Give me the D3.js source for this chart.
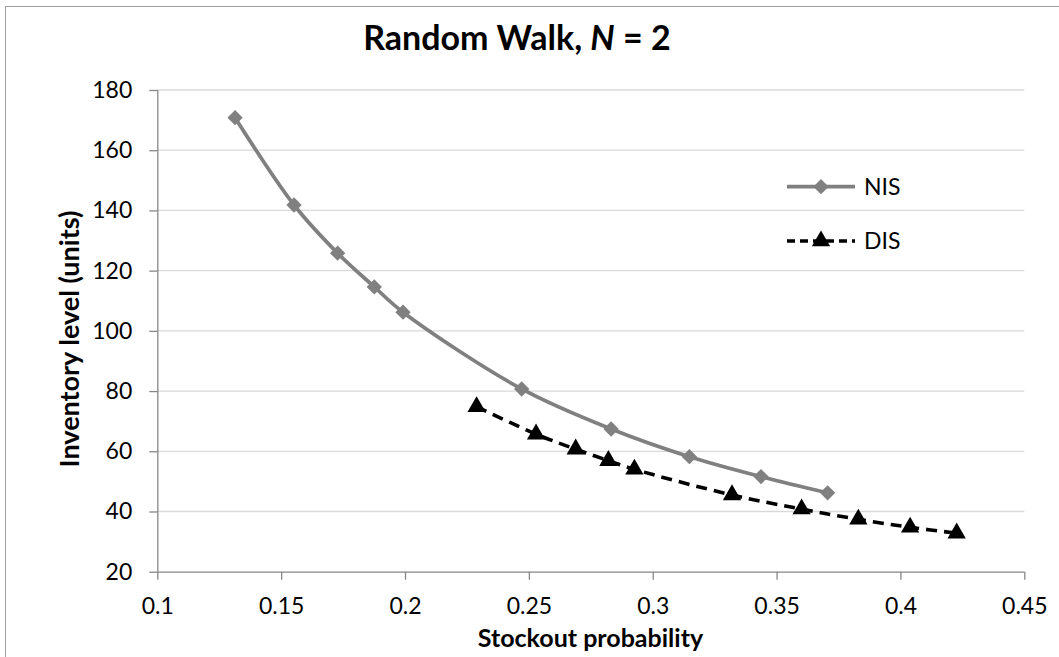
<!DOCTYPE html>
<html><head><meta charset="utf-8">
<script src="https://cdn.jsdelivr.net/npm/d3@7"></script>
<style>body{margin:0;background:#fff}svg{display:block}text{font-family:Lato,"Open Sans",sans-serif}</style>
</head><body>
<svg id="c" width="1059" height="657"></svg>
<script>
const nisX = [0.1314,0.1552,0.1728,0.1876,0.1992,0.2471,0.2832,0.3148,0.3437,0.3706];
const nisY = [170.8,141.8,125.8,114.6,106.2,80.7,67.4,58.2,51.6,46.2];
const disX = [0.2289,0.2529,0.2689,0.2821,0.2926,0.3320,0.3601,0.3830,0.4039,0.4227];
const disY = [74.8,65.7,60.7,56.9,54.0,45.5,40.8,37.4,34.75,32.8];
const xTicks = [0.1,0.15,0.2,0.25,0.3,0.35,0.4,0.45];
const yTicks = [20,40,60,80,100,120,140,160,180];
const seriesNames = ["NIS","DIS"];

const svg = d3.select("#c");
const x = d3.scaleLinear().domain([0.1,0.45]).range([157.3,1024.3]);
const y = d3.scaleLinear().domain([20,180]).range([571.7,90]);

svg.append("rect").attr("x",5.5).attr("y",6.5).attr("width",1100).attr("height",700)
  .attr("fill","none").attr("stroke","#a0a0a0").attr("stroke-width",1);

svg.append("g").selectAll("line").data(yTicks.filter(d=>d>20)).join("line")
  .attr("x1",x(0.1)).attr("x2",x(0.45)).attr("y1",d=>y(d)).attr("y2",d=>y(d))
  .attr("stroke","#d9d9d9").attr("stroke-width",1.3);

const ya = svg.append("g").attr("transform",`translate(${x(0.1)},0)`)
  .call(d3.axisLeft(y).tickValues(yTicks).tickSize(8).tickPadding(17).tickFormat(d3.format("d")));
const xa = svg.append("g").attr("transform",`translate(0,${y(20)})`)
  .call(d3.axisBottom(x).tickValues(xTicks).tickSize(8).tickPadding(18).tickFormat(d=>String(+d.toFixed(2))));
[ya,xa].forEach(a=>{
  a.select(".domain").attr("stroke","#868686").attr("stroke-width",1.3);
  a.selectAll(".tick line").attr("stroke","#868686").attr("stroke-width",1.3);
  a.selectAll(".tick text").attr("fill","#000").style("font-size","23px").style("font-family","Lato,'Open Sans',sans-serif");
});
xa.select(".domain").attr("d",`M${x(0.1)},0.5H${x(0.45)}`);
ya.select(".domain").attr("d",`M0.5,${y(180)}V${y(20)}`);

const nis = nisX.map((v,i)=>[v,nisY[i]]);
const dis = disX.map((v,i)=>[v,disY[i]]);
const line = d3.line().x(d=>x(d[0])).y(d=>y(d[1])).curve(d3.curveCatmullRom.alpha(0.5));
svg.append("path").attr("d",line(nis)).attr("fill","none").attr("stroke","#808080").attr("stroke-width",3.7);
svg.append("path").attr("d",line(dis)).attr("fill","none").attr("stroke","#000").attr("stroke-width",3.6).attr("stroke-dasharray","11,7");

const diamond = d3.symbol().type(d3.symbolDiamond2).size(150);
const tri = d3.symbol().type(d3.symbolTriangle).size(145);
svg.append("g").selectAll("path").data(nis).join("path")
  .attr("d",diamond).attr("transform",d=>`translate(${x(d[0])},${y(d[1])})`).attr("fill","#808080");
svg.append("g").selectAll("path").data(dis).join("path")
  .attr("d",tri).attr("transform",d=>`translate(${x(d[0])},${y(d[1])})`).attr("fill","#000");

const lg = svg.append("g");
lg.append("line").attr("x1",787).attr("x2",855).attr("y1",186.7).attr("y2",186.7).attr("stroke","#808080").attr("stroke-width",3.7);
lg.append("path").attr("d",diamond).attr("transform","translate(821,186.7)").attr("fill","#808080");
lg.append("text").attr("x",864).attr("y",186.7).attr("dy","0.35em").style("font-size","23px").text(seriesNames[0]);
lg.append("line").attr("x1",787).attr("x2",855).attr("y1",241).attr("y2",241).attr("stroke","#000").attr("stroke-width",3.6).attr("stroke-dasharray","8,5");
lg.append("path").attr("d",tri).attr("transform","translate(821,241)").attr("fill","#000");
lg.append("text").attr("x",864).attr("y",241).attr("dy","0.35em").style("font-size","23px").text(seriesNames[1]);

const t = svg.append("text").attr("x",517).attr("y",49.5).attr("text-anchor","middle")
  .style("font-size","34px").style("font-weight","bold");
t.append("tspan").text("Random Walk, ");
t.append("tspan").style("font-style","italic").text("N");
t.append("tspan").text(" = 2");

svg.append("text").attr("x",590.5).attr("y",646.5).attr("text-anchor","middle")
  .style("font-size","25px").style("font-weight","bold").text("Stockout probability");
svg.append("text").attr("transform","translate(79,339) rotate(-90)").attr("text-anchor","middle")
  .style("font-size","27px").style("font-weight","bold").text("Inventory level (units)");
</script>
</body></html>
